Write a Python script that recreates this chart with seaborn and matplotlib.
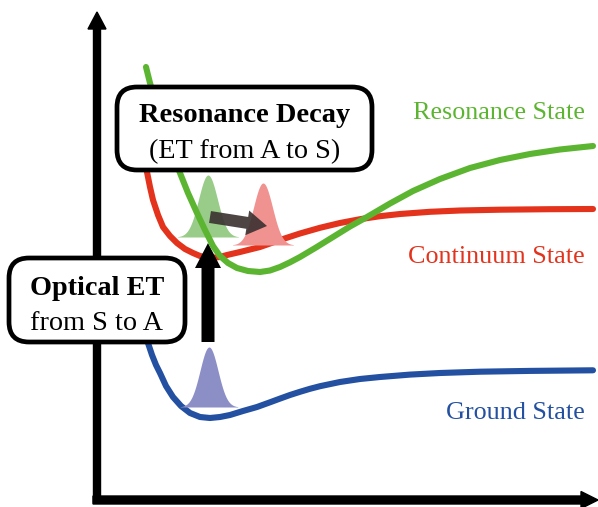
import numpy as np
import pandas as pd
import matplotlib
matplotlib.use("Agg")
import matplotlib.pyplot as plt
from matplotlib.patches import FancyBboxPatch
import seaborn as sns

# Potential energy curves (canvas units: x to the right, y downward)
resonance_x = [146, 150, 158, 166, 173, 180, 188, 197, 205, 213, 220, 228, 237, 248, 260, 270,
               280, 290, 300, 316, 333, 350, 367, 390, 413, 440, 470, 500, 530, 560, 593]
resonance_y = [67, 83, 110, 135, 155, 173, 193, 213, 230, 246, 256, 263, 268, 271, 272, 270.5,
               267, 262.3, 257, 247.5, 237, 226.5, 217, 203.5, 191, 179, 168, 160, 154, 149.5, 146]

continuum_x = [144, 147, 150, 153, 158, 163, 170, 177, 185, 193, 200, 210, 220, 227, 240, 260,
               280, 300, 320, 340, 360, 380, 400, 430, 460, 500, 550, 593]
continuum_y = [150, 172, 187, 200, 215, 227, 236, 243, 249, 253, 256, 258, 257, 255, 252, 247,
               240, 233.5, 227.8, 223, 219.2, 216.2, 214, 211.8, 210.5, 209.7, 209.2, 209]

ground_x = [146, 148, 152, 156, 160, 166, 173, 181, 190, 200, 210, 220, 230, 243, 257, 270,
            280, 290, 300, 310, 320, 340, 360, 380, 410, 440, 480, 530, 593]
ground_y = [338, 343, 355, 365, 373, 386, 397, 406, 413, 417, 418, 417, 415, 411, 407, 402.3,
            398.6, 395, 391.8, 388.8, 386.2, 382, 379, 377, 374.6, 373, 371.7, 370.9, 370.3]

state_names = ["Resonance State", "Continuum State", "Ground State"]
state_colors = ["#5cb531", "#e3331c", "#2350a0"]
label_baselines = [119, 263, 419]

# Wave packets: centre, baseline, height, width, colour
packet_center = [208, 263, 209]
packet_base = [237, 245, 407]
packet_height = [62, 62, 60]
packet_sigma = [9.5, 9.5, 9.0]
packet_colors = ["#99cc89", "#f09290", "#8b8fc6"]

sns.set_style("white")
plt.rcParams["font.family"] = ["Liberation Serif", "DejaVu Serif"]
plt.rcParams["text.color"] = "black"

fig = plt.figure(figsize=(5.98, 5.07), dpi=100)
ax = fig.add_axes([0, 0, 1, 1])
ax.set_xlim(0, 598)
ax.set_ylim(507, 0)
ax.set_axis_off()

# axes arrows
ax.arrow(97, 503, 0, -491, width=7, head_width=18, head_length=17,
         length_includes_head=True, color="black", zorder=2)
ax.arrow(93, 500, 505, 0, width=8, head_width=17, head_length=17,
         length_includes_head=True, color="black", zorder=2)

curves = pd.concat([
    pd.DataFrame({"x": resonance_x, "y": resonance_y, "state": state_names[0]}),
    pd.DataFrame({"x": continuum_x, "y": continuum_y, "state": state_names[1]}),
    pd.DataFrame({"x": ground_x, "y": ground_y, "state": state_names[2]}),
])

line_kw = dict(sort=False, estimator=None, linewidth=4.4, legend=False, ax=ax,
               solid_capstyle="round", solid_joinstyle="round")

# red and blue curves under the packets, green on top
sns.lineplot(data=curves[curves.state != state_names[0]], x="x", y="y", hue="state",
             hue_order=state_names[1:], palette=state_colors[1:], zorder=3, **line_kw)

for c, b, h, s, col in zip(packet_center, packet_base, packet_height, packet_sigma, packet_colors):
    xs = np.linspace(c - 3.2 * s, c + 3.2 * s, 120)
    ys = b - h * np.exp(-0.5 * ((xs - c) / s) ** 2)
    ax.fill_between(xs, b, ys, color=col, linewidth=0, zorder=4)

# optical excitation arrow
ax.arrow(208, 342, 0, -99, width=13, head_width=26, head_length=25,
         length_includes_head=True, color="black", linewidth=0, zorder=5)

sns.lineplot(data=curves[curves.state == state_names[0]], x="x", y="y",
             color=state_colors[0], zorder=6, **line_kw)

# decay arrow between packets
ax.arrow(210, 217, 57, 9, width=12, head_width=25, head_length=20,
         length_includes_head=True, color="#3a3030", alpha=0.9, linewidth=0, zorder=7)

# boxed annotations
box1 = FancyBboxPatch((117, 87), 255, 83, boxstyle="round,pad=0,rounding_size=20",
                      facecolor="white", edgecolor="black", linewidth=3.4, zorder=8)
ax.add_patch(box1)
ax.text(245, 122, "Resonance Decay", ha="center", va="baseline", fontsize=20.5,
        fontweight="bold", color="black", zorder=9)
ax.text(245, 158, "(ET from A to S)", ha="center", va="baseline", fontsize=20.3,
        color="black", zorder=9)

box2 = FancyBboxPatch((9, 258), 176, 84, boxstyle="round,pad=0,rounding_size=20",
                      facecolor="white", edgecolor="black", linewidth=3.4, zorder=8)
ax.add_patch(box2)
ax.text(97, 295, "Optical ET", ha="center", va="baseline", fontsize=20.3,
        fontweight="bold", color="black", zorder=9)
ax.text(97, 330, "from S to A", ha="center", va="baseline", fontsize=20.3,
        color="black", zorder=9)

for name, col, yb in zip(state_names, state_colors, label_baselines):
    ax.text(585, yb, name, ha="right", va="baseline", fontsize=18.8, color=col, zorder=9)

fig.savefig("out.png", dpi=100)
